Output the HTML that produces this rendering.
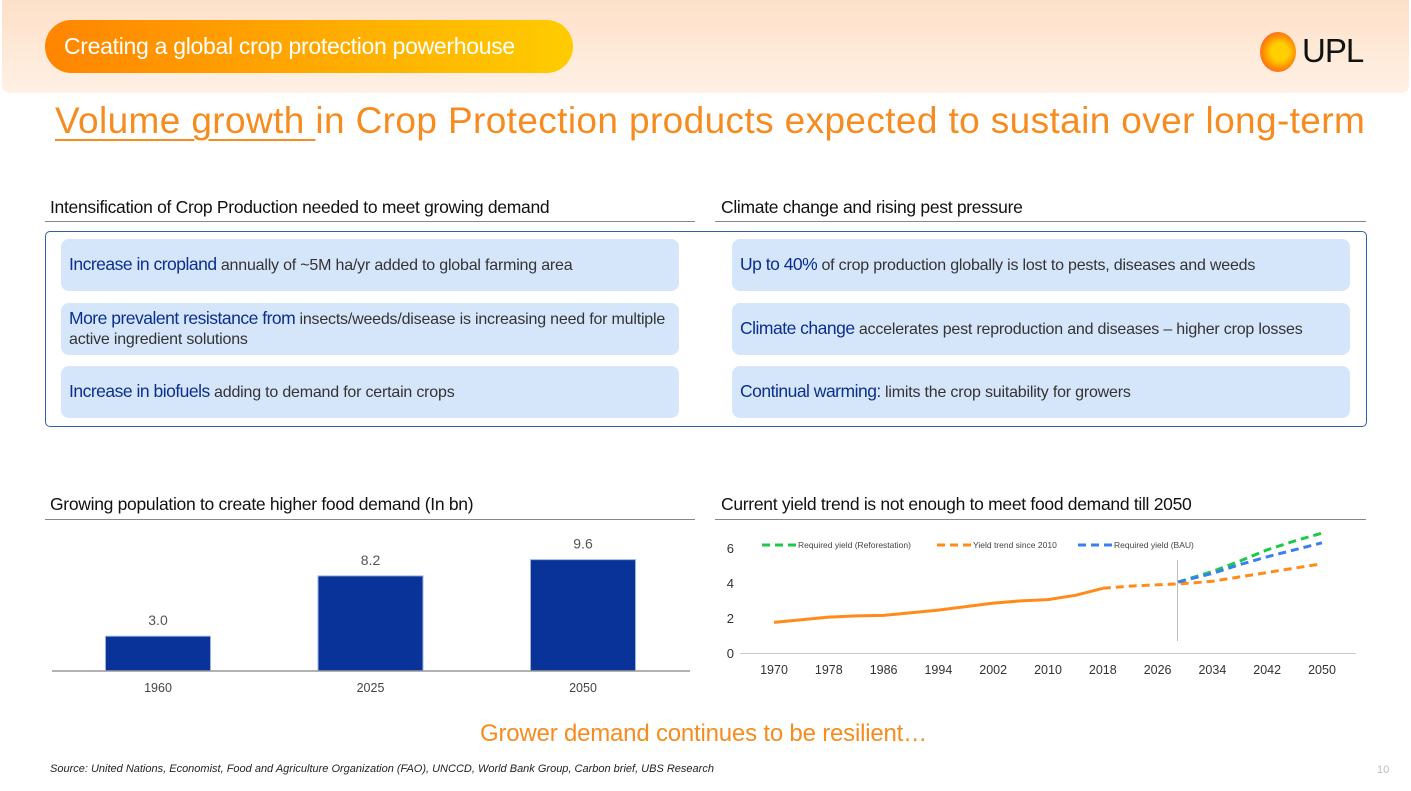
<!DOCTYPE html>
<html><head><meta charset="utf-8">
<style>
*{margin:0;padding:0;box-sizing:border-box}
body{width:1411px;height:791px;overflow:hidden;background:#fff;font-family:"Liberation Sans",sans-serif;position:relative}
.abs{position:absolute}
.hdr{left:2px;top:0;width:1407px;height:93px;background:linear-gradient(#fde0c8,#fff1e5);border-radius:0 0 8px 8px}
.pill{left:45px;top:20px;width:528px;height:53px;border-radius:27px;background:linear-gradient(90deg,#ff8500,#ffcc00);color:#fff;font-size:23px;line-height:53px;padding-left:19px;letter-spacing:-0.3px}
.title{left:55px;top:100px;font-size:37px;color:#f68b1f;white-space:nowrap;letter-spacing:0.38px}
.sec{font-size:17.5px;color:#111;white-space:nowrap;letter-spacing:-0.3px}
.rule{height:1px;background:#888}
.box{background:#d5e6fb;border-radius:8px;font-size:16px;color:#333;padding:0 8px;display:flex;align-items:center;line-height:20px;letter-spacing:-0.2px}
.box b{color:#0b2f8a;font-weight:normal;font-size:17.5px;letter-spacing:-0.5px}
</style></head><body>
<div class="abs hdr"></div>
<div class="abs pill">Creating a global crop protection powerhouse</div>
<div class="abs" style="left:1258px;top:30px;width:44px;height:44px">
<div style="position:absolute;left:2px;top:2px;width:36px;height:40px;border-radius:50%;background:radial-gradient(circle at 55% 50%,#ffd000 30%,#ff8a00 60%,#f0308a 100%)"></div>
<div style="position:absolute;left:44px;top:2px;font-size:33px;color:#111;letter-spacing:-1px">UPL</div></div>
<div class="abs title"><span style="text-decoration:underline;text-decoration-thickness:2px;text-underline-offset:6px">Volume growth </span>in Crop Protection products expected to sustain over long-term</div>

<div class="abs sec" style="left:50px;top:197px">Intensification of Crop Production needed to meet growing demand</div>
<div class="abs rule" style="left:45px;top:221px;width:650px"></div>
<div class="abs sec" style="left:721px;top:197px">Climate change and rising pest pressure</div>
<div class="abs rule" style="left:715px;top:221px;width:651px"></div>
<div class="abs" style="left:45px;top:231px;width:1322px;height:196px;border:1.5px solid #2f5fa8;border-radius:5px"></div>

<div class="abs box" style="left:61px;top:239px;width:618px;height:52px"><span><b>Increase in cropland</b> annually of ~5M ha/yr added to global farming area</span></div>
<div class="abs box" style="left:61px;top:303px;width:618px;height:52px"><span><b>More prevalent resistance from</b> insects/weeds/disease is increasing need for multiple active ingredient solutions</span></div>
<div class="abs box" style="left:61px;top:366px;width:618px;height:52px"><span><b>Increase in biofuels</b> adding to demand for certain crops</span></div>
<div class="abs box" style="left:732px;top:239px;width:618px;height:52px"><span><b>Up to 40%</b> of crop production globally is lost to pests, diseases and weeds</span></div>
<div class="abs box" style="left:732px;top:303px;width:618px;height:52px"><span><b>Climate change</b> accelerates pest reproduction and diseases – higher crop losses</span></div>
<div class="abs box" style="left:732px;top:366px;width:618px;height:52px"><span><b>Continual warming:</b> limits the crop suitability for growers</span></div>

<div class="abs sec" style="left:50px;top:494px">Growing population to create higher food demand (In bn)</div>
<div class="abs rule" style="left:45px;top:519px;width:650px"></div>
<div class="abs sec" style="left:721px;top:494px">Current yield trend is not enough to meet food demand till 2050</div>
<div class="abs rule" style="left:715px;top:519px;width:651px"></div>

<svg class="abs" style="left:0;top:0" width="1411" height="791" id="charts"></svg>

<div class="abs" style="left:480px;top:720px;font-size:24px;color:#f68b1f;letter-spacing:-0.2px">Grower demand continues to be resilient…</div>
<div class="abs" style="left:50px;top:763px;font-size:11px;font-style:italic;color:#222">Source: United Nations, Economist, Food and Agriculture Organization (FAO), UNCCD, World Bank Group, Carbon brief, UBS Research</div>
<div class="abs" style="left:1377px;top:764px;font-size:11px;color:#bbb">10</div>

<script>
const popCategories=["1960","2025","2050"];
const popValues=[3.0,8.2,9.6];
const yieldTicks=[0,2,4,6];
const yearTicks=[1970,1978,1986,1994,2002,2010,2018,2026,2034,2042,2050];
const histYears=[1970,1974,1978,1982,1986,1990,1994,1998,2002,2006,2010,2014,2018];
const histValues=[1.75,1.9,2.05,2.12,2.15,2.3,2.45,2.65,2.85,2.98,3.05,3.3,3.7];
const trendYears=[2018,2022,2026,2029,2031,2034,2038,2042,2046,2050];
const trendValues=[3.7,3.82,3.9,3.95,4.0,4.1,4.35,4.6,4.85,5.1];
const refYears=[2029,2031,2034,2038,2042,2046,2050];
const refValues=[4.05,4.3,4.65,5.25,5.9,6.4,6.85];
const bauYears=[2029,2031,2034,2038,2042,2046,2050];
const bauValues=[4.05,4.25,4.55,5.05,5.5,5.9,6.3];
const NS="http://www.w3.org/2000/svg";
const svg=document.getElementById('charts');
function mk(t,a,txt){const e=document.createElementNS(NS,t);for(const k in a)e.setAttribute(k,a[k]);if(txt!==undefined)e.textContent=txt;svg.appendChild(e);return e;}
const barBase=671,barScale=11.6,barCenters0=158,barStep=212.5,barW=105;
const bx=i=>barCenters0+i*barStep;const by=v=>barBase-v*barScale;
popValues.forEach((v,i)=>{
 const r=mk('rect',{x:bx(i)-barW/2,y:by(v),width:barW,height:barBase-by(v),fill:'#0a3399',stroke:'#9db3dc','stroke-width':1});
 
 
 const l=mk('text',{x:bx(i),y:by(v)-11,'text-anchor':'middle','font-size':14,fill:'#555','font-family':'Liberation Sans'},v.toFixed(1));
 
 
 const c=mk('text',{x:bx(i),y:692,'text-anchor':'middle','font-size':12.5,fill:'#444','font-family':'Liberation Sans'},popCategories[i]);
 
 
});
const ba=mk('line',{x1:52,x2:690,y1:barBase,y2:barBase,stroke:'#999','stroke-width':1.5});


const X=y=>774+(y-1970)*(548/80);const Y=v=>653-v*17.5;
const ax=mk('line',{x1:740,x2:1356,y1:Y(0)+0.5,y2:Y(0)+0.5,stroke:'#ccc','stroke-width':1});


yieldTicks.forEach(t=>{const e=mk('text',{x:734,y:Y(t)+5,'text-anchor':'end','font-size':13,fill:'#333','font-family':'Liberation Sans'},t);
 
 });
yearTicks.forEach(t=>{const e=mk('text',{x:X(t),y:674,'text-anchor':'middle','font-size':12.5,fill:'#333','font-family':'Liberation Sans'},t);
 
 });
const vl=mk('line',{x1:X(2028.9),x2:X(2028.9),y1:560,y2:641,stroke:'#bbb','stroke-width':1});


function path(xs,vs,col,dash,name){const d=xs.map((x,i)=>(i?'L':'M')+X(x).toFixed(1)+','+Y(vs[i]).toFixed(1)).join(' ');
 const p=mk('path',{d:d,fill:'none',stroke:col,'stroke-width':3,'stroke-linejoin':'round','stroke-linecap':'butt'});
 if(dash)p.setAttribute('stroke-dasharray','8,5');
 
 }
path(trendYears,trendValues,'#ff8c1a',true,'yield-trend-line');
path(refYears,refValues,'#1ec84a',true,'reforestation-line');
path(bauYears,bauValues,'#3a7ff0',true,'bau-line');
path(histYears,histValues,'#ff8c1a',false,'historical-yield-line');
const leg=[['#1ec84a','Required yield (Reforestation)',762],['#ff8c1a','Yield trend since 2010',937],['#3a7ff0','Required yield (BAU)',1078]];
leg.forEach(l=>{const s=mk('line',{x1:l[2],x2:l[2]+34,y1:545,y2:545,stroke:l[0],'stroke-width':3,'stroke-dasharray':'8,5'});
 
 
 const t=mk('text',{x:l[2]+36,y:548,'font-size':8.5,fill:'#444','font-family':'Liberation Sans'},l[1]);
 
 });
</script>
</body></html>
